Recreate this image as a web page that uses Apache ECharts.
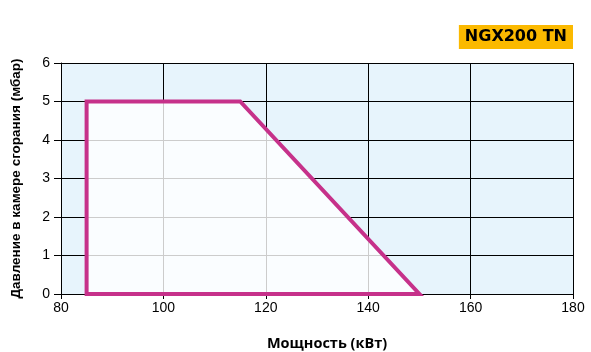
<!DOCTYPE html>
<html><head><meta charset="utf-8">
<script src="https://cdn.jsdelivr.net/npm/echarts@6/dist/echarts.min.js"></script>
<style>html,body{margin:0;padding:0;background:#fff}#c{width:591px;height:352px}</style>
</head><body><div id="c"></div>
<script>
const xTicks = [80, 100, 120, 140, 160, 180];
const yTicks = [0, 1, 2, 3, 4, 5, 6];
const powerKW = [85, 85, 115, 150];
const pressureMbar = [0, 5, 5, 0];
const modelName = 'NGX200 TN';
const xTitle = 'Мощность (кВт)';
const yTitle = 'Давление в камере сгорания (мбар)';

const pts = powerKW.map((x, i) => [x, pressureMbar[i]]);
const font = 'Liberation Sans, Arial, sans-serif';
const chart = echarts.init(document.getElementById('c'), null, {renderer: 'canvas'});
chart.setOption({
  animation: false,
  title: {
    text: modelName, right: 18, top: 25,
    backgroundColor: '#fbb900', padding: [4, 6, 4, 6],
    textStyle: {fontFamily: 'DejaVu Sans', fontWeight: 'bold', fontSize: 16, color: '#000'}
  },
  grid: {left: 61, right: 18, top: 63, bottom: 58, outerBoundsMode: 'none', containLabel: false,
    show: true, backgroundColor: '#e7f4fc', borderWidth: 0},
  xAxis: {
    type: 'value', min: xTicks[0], max: xTicks[xTicks.length - 1], interval: 20,
    name: xTitle, nameLocation: 'middle', nameGap: 42,
    nameTextStyle: {fontFamily: 'Open Sans', fontWeight: 'bold', fontSize: 14.5, color: '#000', padding: [0, 0, 0, 20]},
    axisLine: {show: true, lineStyle: {color: '#000', width: 1}},
    axisTick: {show: true, length: 5, lineStyle: {color: '#000'}},
    axisLabel: {fontFamily: font, fontSize: 14, color: '#000', margin: 7},
    splitLine: {show: true, lineStyle: {color: '#000', width: 1}}
  },
  yAxis: {
    type: 'value', min: yTicks[0], max: yTicks[yTicks.length - 1], interval: 1,
    name: yTitle, nameLocation: 'middle', nameGap: 38,
    nameTextStyle: {fontFamily: font, fontWeight: 'bold', fontSize: 13.5, color: '#000'},
    axisLine: {show: true, lineStyle: {color: '#000', width: 1}},
    axisTick: {show: true, length: 7, lineStyle: {color: '#000'}},
    axisLabel: {fontFamily: font, fontSize: 14, color: '#000', margin: 11},
    splitLine: {show: true, lineStyle: {color: '#000', width: 1}}
  },
  series: [{
    type: 'custom',
    coordinateSystem: 'cartesian2d',
    data: pts,
    renderItem: function (params, api) {
      if (params.dataIndex !== 0) return null;
      const poly = pts.map(p => api.coord(p));
      return {
        type: 'polygon',
        shape: {points: poly},
        style: {fill: 'rgba(255,255,255,0.8)', stroke: '#c6318a', lineWidth: 4, lineJoin: 'miter'}
      };
    },
    z: 10
  }]
});
</script></body></html>
